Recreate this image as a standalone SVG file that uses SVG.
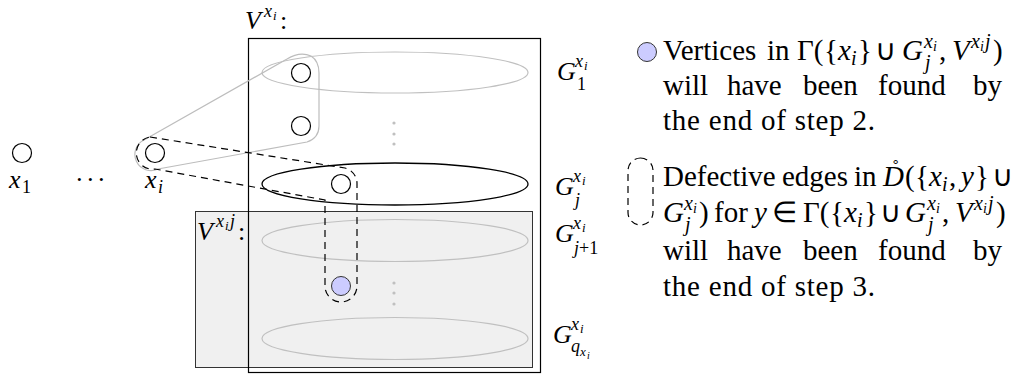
<svg xmlns="http://www.w3.org/2000/svg" width="1022" height="374" viewBox="0 0 1022 374">
<style>
text{font-family:"Liberation Serif","Times New Roman",serif;fill:#000}
.b{font-size:29px}
.l{font-size:26px}
.it{font-style:italic}
.s1{font-size:20px}
.s2{font-size:14px}
.t1{font-size:18px}
.t2{font-size:13px}
.v{fill:#fff;stroke:#000;stroke-width:1.2}
.vp{fill:#ccccff;stroke:#333;stroke-width:1}
.ge{fill:none;stroke:#c0c0c0;stroke-width:1.2}
.gk{fill:none;stroke:#000;stroke-width:1.3}
.dash{fill:none;stroke:#000;stroke-width:1.2;stroke-dasharray:7 5}
.hull{fill:none;stroke:#bdbdbd;stroke-width:1.2}
.dot{fill:#c0c0c0}
</style>

<g id="vxij-box">
<rect x="195.5" y="211.5" width="337" height="156" fill="#f0f0f0" stroke="#333" stroke-width="1"/>
</g>
<g id="vxi-box">
<rect x="248.5" y="38.5" width="292" height="334" fill="none" stroke="#000" stroke-width="1.2"/>
</g>

<g id="G1"><ellipse class="ge" cx="395" cy="72.5" rx="133" ry="20.5"/></g>
<g id="Gj"><ellipse class="gk" cx="395" cy="184" rx="133" ry="21"/></g>
<g id="Gj1"><ellipse class="ge" cx="395" cy="240.5" rx="133" ry="21"/></g>
<g id="Gq"><ellipse class="ge" cx="395" cy="338.5" rx="133" ry="21"/></g>

<g id="dots">
<circle class="dot" cx="394" cy="123" r="1.6"/><circle class="dot" cx="394" cy="134" r="1.6"/><circle class="dot" cx="394" cy="144" r="1.6"/>
<circle class="dot" cx="394" cy="283" r="1.6"/><circle class="dot" cx="394" cy="293" r="1.6"/><circle class="dot" cx="394" cy="304" r="1.6"/>
</g>

<g id="connectors">
<path class="hull" d="M144,140 L287,59 Q300,51 311,56 Q319,61 319,73 L319,126 Q319,138 307,142 L158,169 A16,16 0 0 1 144,140 Z"/>
<path class="dash" d="M150,137 L345,168 A16,16 0 0 1 357,184 L357,286 A16,16 0 0 1 325,286 L325,200 L155,169 A16,16 0 0 1 150,137 Z"/>
</g>

<g id="v-x1"><circle class="v" cx="22" cy="153" r="9.5"/></g>
<g id="v-xi"><circle class="v" cx="155" cy="153" r="9.5"/></g>
<g id="v-g1a"><circle class="v" cx="301" cy="73" r="9.5"/></g>
<g id="v-g1b"><circle class="v" cx="301" cy="126" r="9.5"/></g>
<g id="v-gj"><circle class="v" cx="341" cy="184" r="9.5"/></g>
<g id="v-y"><circle class="vp" cx="341" cy="286" r="9.5"/></g>

<g id="labels">
<text class="l"><tspan class="it" x="245" y="29">V</tspan><tspan class="it t1" x="264" y="17">x</tspan><tspan class="it t2" x="273" y="20">i</tspan><tspan x="280" y="29">:</tspan></text>
<text class="l"><tspan class="it" x="197" y="240">V</tspan><tspan class="it t1" x="216" y="227">x</tspan><tspan class="it t2" x="225" y="230">i</tspan><tspan class="it t1" x="230" y="227">j</tspan><tspan x="238" y="240">:</tspan></text>
<text class="l"><tspan class="it" x="9" y="188">x</tspan><tspan class="t1" x="22" y="193">1</tspan></text>
<text class="l" x="75 86 97" y="188">···</text>
<text class="l"><tspan class="it" x="145" y="188">x</tspan><tspan class="it t1" x="158" y="193">i</tspan></text>
<text class="l"><tspan class="it" x="557" y="80">G</tspan><tspan class="it t1" x="575" y="67">x</tspan><tspan class="it t2" x="584" y="70">i</tspan><tspan class="t1" x="577" y="90">1</tspan></text>
<text class="l"><tspan class="it" x="555" y="195">G</tspan><tspan class="it t1" x="573" y="182">x</tspan><tspan class="it t2" x="582" y="185">i</tspan><tspan class="it t1" x="575" y="206">j</tspan></text>
<text class="l"><tspan class="it" x="555" y="242">G</tspan><tspan class="it t1" x="573" y="229">x</tspan><tspan class="it t2" x="582" y="232">i</tspan><tspan class="t1" x="574" y="254"><tspan class="it">j</tspan>+1</tspan></text>
<text class="l"><tspan class="it" x="553" y="343">G</tspan><tspan class="it t1" x="571" y="330">x</tspan><tspan class="it t2" x="580" y="333">i</tspan><tspan class="it t1" x="571" y="352">q</tspan><tspan class="it t2" x="580" y="356">x</tspan><tspan class="it" style="font-size:10px" x="587" y="359">i</tspan></text>
</g>

<g id="legend-found">
<circle class="vp" cx="647" cy="52" r="9.5"/>
<text class="b"><tspan x="663" y="60">Vertices</tspan><tspan x="767" y="60">in</tspan><tspan x="797" y="60">Γ(</tspan><tspan x="824" y="60">{</tspan><tspan class="it" x="838" y="60">x</tspan><tspan class="it s1" x="851" y="65">i</tspan><tspan x="858" y="60">}</tspan><tspan x="875" y="60">∪</tspan><tspan class="it" x="902" y="60">G</tspan><tspan class="it s1" x="924" y="48">x</tspan><tspan class="it s2" x="933" y="51">i</tspan><tspan class="it s1" x="925" y="69">j</tspan><tspan x="939" y="60">,</tspan><tspan class="it" x="952" y="60">V</tspan><tspan class="it s1" x="971" y="48">x</tspan><tspan class="it s2" x="980" y="51">i</tspan><tspan class="it s1" x="985" y="48">j</tspan><tspan x="993" y="60">)</tspan></text>
<text class="b"><tspan x="663" y="95">will</tspan><tspan x="727" y="95">have</tspan><tspan x="803" y="95">been</tspan><tspan x="878" y="95">found</tspan><tspan x="973" y="95">by</tspan></text>
<text class="b" x="663" y="130" textLength="212" lengthAdjust="spacing">the end of step 2.</text>
</g>

<g id="legend-defective">
<rect class="dash" x="628" y="158" width="25" height="67" rx="12.5"/>
<text class="b"><tspan x="663" y="186">Defective</tspan><tspan x="782" y="186">edges</tspan><tspan x="854" y="186">in</tspan><tspan class="it" x="883" y="186">D</tspan><tspan x="892" y="175" style="font-size:22px">˚</tspan><tspan x="905" y="186">(</tspan><tspan x="915" y="186">{</tspan><tspan class="it" x="929" y="186">x</tspan><tspan class="it s1" x="942" y="191">i</tspan><tspan x="949" y="186">,</tspan><tspan class="it" x="961" y="186">y</tspan><tspan x="975" y="186">}</tspan><tspan x="992" y="186">∪</tspan></text>
<text class="b"><tspan class="it" x="663" y="222">G</tspan><tspan class="it s1" x="684" y="210">x</tspan><tspan class="it s2" x="693" y="213">i</tspan><tspan class="it s1" x="685" y="231">j</tspan><tspan x="699" y="222">)</tspan><tspan x="714" y="222">for</tspan><tspan class="it" x="754" y="222">y</tspan><tspan x="772" y="222">∈</tspan><tspan x="803" y="222">Γ(</tspan><tspan x="830" y="222">{</tspan><tspan class="it" x="844" y="222">x</tspan><tspan class="it s1" x="857" y="227">i</tspan><tspan x="864" y="222">}</tspan><tspan x="880" y="222">∪</tspan><tspan class="it" x="905" y="222">G</tspan><tspan class="it s1" x="927" y="210">x</tspan><tspan class="it s2" x="936" y="213">i</tspan><tspan class="it s1" x="928" y="231">j</tspan><tspan x="942" y="222">,</tspan><tspan class="it" x="955" y="222">V</tspan><tspan class="it s1" x="974" y="210">x</tspan><tspan class="it s2" x="983" y="213">i</tspan><tspan class="it s1" x="988" y="210">j</tspan><tspan x="996" y="222">)</tspan></text>
<text class="b"><tspan x="663" y="260">will</tspan><tspan x="727" y="260">have</tspan><tspan x="803" y="260">been</tspan><tspan x="878" y="260">found</tspan><tspan x="973" y="260">by</tspan></text>
<text class="b" x="663" y="296" textLength="212" lengthAdjust="spacing">the end of step 3.</text>
</g>
</svg>
